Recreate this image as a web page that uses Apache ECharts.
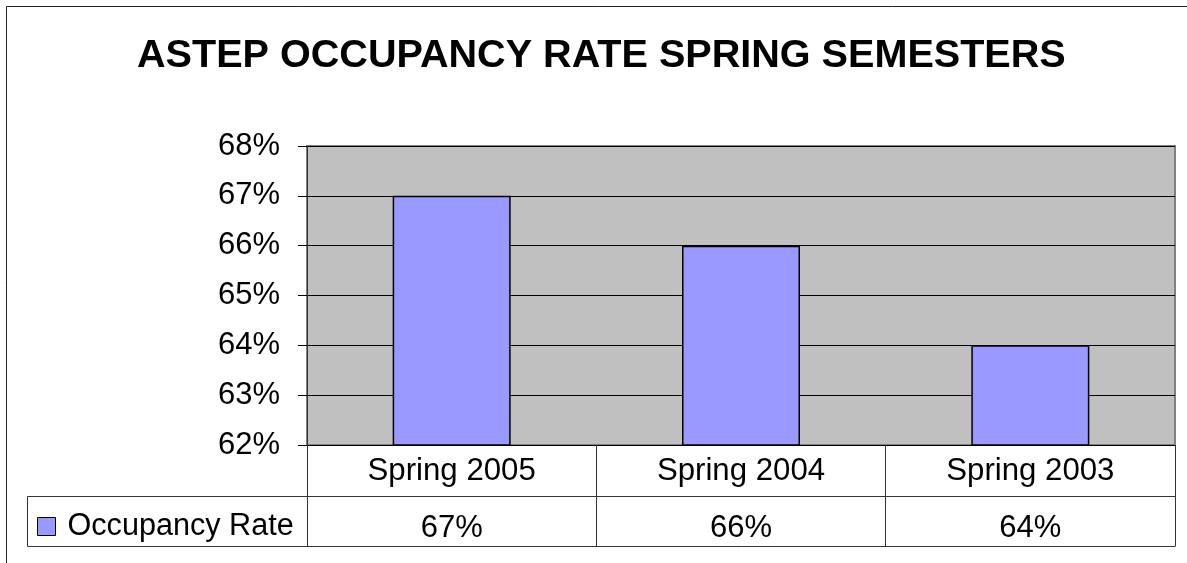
<!DOCTYPE html>
<html>
<head>
<meta charset="utf-8">
<script src="https://cdn.jsdelivr.net/npm/echarts@6/dist/echarts.min.js"></script>
<style>
  html, body { margin: 0; padding: 0; background: #fff; }
  #chart { width: 1187px; height: 563px; }
</style>
</head>
<body>
<div id="chart"></div>
<script>
// chart data
var categories = ['Spring 2005', 'Spring 2004', 'Spring 2003'];
var occupancy = [67, 66, 64];
var seriesName = 'Occupancy Rate';
var yMin = 62, yMax = 68, yStep = 1;

var FONT = 'Liberation Sans, Arial, sans-serif';
var LINE = '#333';

function showChart() {
	var myChart = echarts.init(document.getElementById('chart'));
	myChart.setOption(createOption());
}

function createOption() {
	//the value row of the data table
	var valueLabels = occupancy.map(function (v) { return v + '%'; });

	var option = {
		animation: false,
		backgroundColor: '#fff',
		title: {
			text: 'ASTEP OCCUPANCY RATE SPRING SEMESTERS',
			left: 137,
			top: 36,
			padding: 0,
			textStyle: { fontFamily: FONT, fontSize: 39.6, fontWeight: 'bold', color: '#000', lineHeight: 40 }
		},
		legend: {
			left: 37,
			top: 511,
			itemWidth: 18,
			itemHeight: 18,
			icon: 'rect',
			padding: 0,
			data: [seriesName],
			itemStyle: { borderColor: '#000', borderWidth: 1 },
			textStyle: { fontFamily: FONT, fontSize: 30.6, color: '#000', lineHeight: 30, padding: [0, 0, 0, 7] }
		},
		grid: {
			left: 307,
			top: 146,
			width: 868,
			height: 299,
			show: true,
			backgroundColor: '#C0C0C0',
			borderColor: '#808080',
			borderWidth: 2
		},
		xAxis: [{
			type: 'category',
			data: categories,
			position: 'bottom',
			axisLine: { show: true, lineStyle: { color: '#000', width: 1 } },
			axisTick: { show: true, alignWithLabel: false, length: 101, lineStyle: { color: LINE, width: 1 } },
			axisLabel: { fontFamily: FONT, fontSize: 31.2, color: '#000', lineHeight: 30, margin: 11 }
		}, {
			type: 'category',
			data: valueLabels,
			position: 'bottom',
			offset: 51,
			axisLine: { show: true, lineStyle: { color: LINE, width: 1 } },
			axisTick: { show: false },
			axisLabel: { fontFamily: FONT, fontSize: 31, color: '#000', lineHeight: 30, margin: 17 }
		}],
		yAxis: {
			type: 'value',
			min: yMin,
			max: yMax,
			interval: yStep,
			axisLine: { show: true, lineStyle: { color: '#333', width: 1 } },
			axisTick: { show: true, length: 9, lineStyle: { color: '#000' } },
			axisLabel: { fontFamily: FONT, fontSize: 31, color: '#000', margin: 27, formatter: '{value}%' },
			splitLine: { show: true, lineStyle: { color: '#000', width: 1 } }
		},
		series: [{
			name: seriesName,
			type: 'bar',
			data: occupancy,
			barWidth: 118,
			itemStyle: { color: '#9999FF', borderColor: '#000', borderWidth: 1.5 }
		}],
		graphic: [
			// outer chart border
			{ type: 'rect', shape: { x: 6.5, y: 6.5, width: 1300, height: 700 }, style: { fill: null, stroke: '#222', lineWidth: 1 }, silent: true },
			// legend cell of the data table
			{ type: 'rect', shape: { x: 27.5, y: 496.5, width: 280, height: 50 }, style: { fill: null, stroke: LINE, lineWidth: 1 }, silent: true },
			// bottom of the data table
			{ type: 'line', shape: { x1: 307, y1: 546.5, x2: 1175.5, y2: 546.5 }, style: { stroke: LINE, lineWidth: 1 }, silent: true }
		]
	};
	return option;
}

showChart();
</script>
</body>
</html>
